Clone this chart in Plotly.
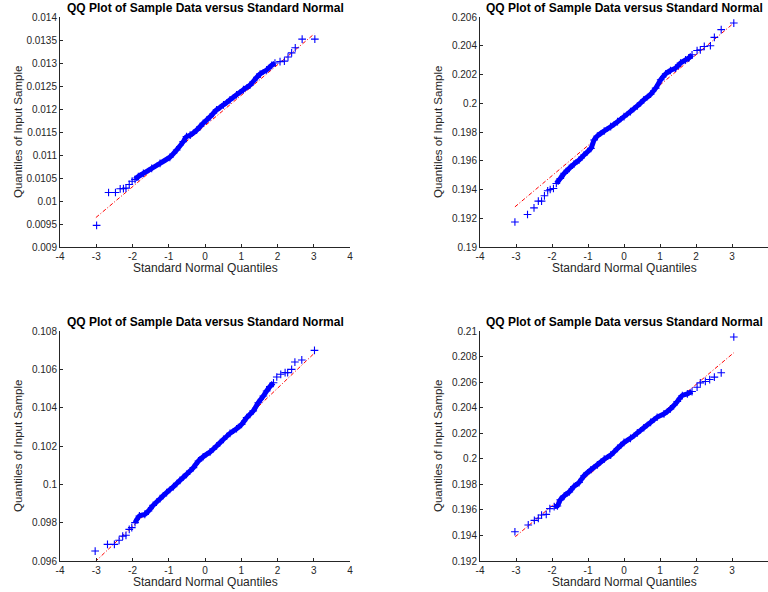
import plotly.graph_objects as go

# ---------------- data ----------------
p1_x = [-2.99, -2.66, -2.47, -2.34, -2.25, -2.18, -2.09, -2.01, -1.93, -1.84, -1.70, -1.47, -1.24,
        -0.97, -0.78, -0.60, -0.51, -0.41, -0.23, -0.05, 0.14, 0.32, 0.51, 0.69, 0.87, 1.06, 1.24,
        1.43, 1.52, 1.70, 1.84, 1.93, 2.07, 2.19, 2.29, 2.39, 2.49, 2.68, 3.03]
p1_y = [0.00947, 0.010185, 0.010185, 0.010265, 0.01027, 0.01028, 0.01036, 0.01043, 0.01047, 0.01053,
        0.01060, 0.01071, 0.01082, 0.01095, 0.01111, 0.01129, 0.01140, 0.01143, 0.01154, 0.01169,
        0.01183, 0.01198, 0.01209, 0.01220, 0.01231, 0.01242, 0.01252, 0.01269, 0.01276, 0.01285,
        0.01295, 0.01300, 0.01303, 0.01304, 0.01313, 0.01322, 0.01333, 0.01352, 0.01352]
p1_line_x = [-3.01, 3.01]
p1_line_y = [0.00964, 0.01363]
p1_yticks = [0.009, 0.0095, 0.01, 0.0105, 0.011, 0.0115, 0.012, 0.0125, 0.013, 0.0135, 0.014]
p1_ylabels = ["0.009", "0.0095", "0.01", "0.0105", "0.011", "0.0115", "0.012", "0.0125", "0.013",
              "0.0135", "0.014"]

p2_x = [-3.03, -2.68, -2.50, -2.38, -2.29, -2.21, -2.12, -2.05, -1.96, -1.88, -1.77, -1.66, -1.52,
        -1.39, -1.25, -1.11, -0.92, -0.83, -0.74, -0.55, -0.37, -0.18, 0.0, 0.18, 0.37, 0.55, 0.74,
        0.88, 1.02, 1.16, 1.29, 1.43, 1.57, 1.71, 1.80, 1.89, 2.03, 2.12, 2.23, 2.40, 2.51, 2.70, 3.05]
p2_y = [0.19174, 0.19226, 0.19272, 0.19319, 0.19319, 0.19356, 0.19391, 0.19400, 0.19407, 0.19442,
        0.19477, 0.19512, 0.19547, 0.19577, 0.19605, 0.19640, 0.19686, 0.19744, 0.19772, 0.19807,
        0.19837, 0.19872, 0.19907, 0.19942, 0.19981, 0.20023, 0.20063, 0.20105, 0.20163, 0.20205,
        0.20228, 0.20244, 0.20279, 0.20302, 0.20314, 0.20337, 0.20367, 0.20372, 0.20395, 0.20400,
        0.20458, 0.20512, 0.20558]
p2_line_x = [-3.03, 3.05]
p2_line_y = [0.19279, 0.20558]
p2_yticks = [0.19, 0.192, 0.194, 0.196, 0.198, 0.2, 0.202, 0.204, 0.206]
p2_ylabels = ["0.19", "0.192", "0.194", "0.196", "0.198", "0.2", "0.202", "0.204", "0.206"]

p3_x = [-3.03, -2.69, -2.50, -2.37, -2.27, -2.18, -2.09, -2.02, -1.93, -1.81, -1.66, -1.56, -1.43,
        -1.24, -1.06, -0.87, -0.69, -0.51, -0.32, -0.18, -0.05, 0.14, 0.32, 0.51, 0.69, 0.87, 1.01,
        1.15, 1.33, 1.47, 1.61, 1.70, 1.79, 1.89, 1.98, 2.09, 2.21, 2.28, 2.39, 2.48, 2.67, 3.02]
p3_y = [0.09652, 0.09687, 0.09687, 0.09708, 0.09730, 0.09734, 0.09765, 0.09774, 0.09800, 0.09835,
        0.09843, 0.09861, 0.09890, 0.09925, 0.09957, 0.09988, 0.10021, 0.10052, 0.10087, 0.10122,
        0.10144, 0.10169, 0.10200, 0.10235, 0.10266, 0.10290, 0.10313, 0.10348, 0.10383, 0.10426,
        0.10461, 0.10487, 0.10510, 0.10530, 0.10560, 0.10574, 0.10583, 0.10583, 0.10600, 0.10638,
        0.10649, 0.10699]
p3_line_x = [-3.03, 3.01]
p3_line_y = [0.09596, 0.10683]
p3_yticks = [0.096, 0.098, 0.1, 0.102, 0.104, 0.106, 0.108]
p3_ylabels = ["0.096", "0.098", "0.1", "0.102", "0.104", "0.106", "0.108"]

p4_x = [-3.03, -2.66, -2.49, -2.38, -2.29, -2.16, -2.06, -1.94, -1.85, -1.77, -1.66, -1.52, -1.39,
        -1.25, -1.11, -0.92, -0.74, -0.55, -0.37, -0.18, 0.0, 0.18, 0.37, 0.55, 0.74, 0.92, 1.11,
        1.29, 1.48, 1.62, 1.76, 1.89, 2.03, 2.12, 2.26, 2.38, 2.51, 2.70, 3.05]
p4_y = [0.19429, 0.19482, 0.19518, 0.19534, 0.19560, 0.19565, 0.19610, 0.19626, 0.19631, 0.19678,
        0.19710, 0.19741, 0.19783, 0.19814, 0.19867, 0.19914, 0.19953, 0.19997, 0.20029, 0.20081,
        0.20128, 0.20160, 0.20202, 0.20243, 0.20285, 0.20325, 0.20351, 0.20390, 0.20448, 0.20495,
        0.20508, 0.20526, 0.20560, 0.20594, 0.20605, 0.20620, 0.20639, 0.20673, 0.20953]
p4_line_x = [-3.02, 3.05]
p4_line_y = [0.19390, 0.20830]
p4_yticks = [0.192, 0.194, 0.196, 0.198, 0.2, 0.202, 0.204, 0.206, 0.208, 0.21]
p4_ylabels = ["0.192", "0.194", "0.196", "0.198", "0.2", "0.202", "0.204", "0.206", "0.208", "0.21"]

x_ticks = [-4, -3, -2, -1, 0, 1, 2, 3, 4]
x_labels = ["-4", "-3", "-2", "-1", "0", "1", "2", "3", "4"]

title_text = "QQ Plot of Sample Data versus Standard Normal"
xlab = "Standard Normal Quantiles"
ylab = "Quantiles of Input Sample"

panels = [
    (p1_x, p1_y, p1_line_x, p1_line_y, p1_yticks, p1_ylabels),
    (p2_x, p2_y, p2_line_x, p2_line_y, p2_yticks, p2_ylabels),
    (p3_x, p3_y, p3_line_x, p3_line_y, p3_yticks, p3_ylabels),
    (p4_x, p4_y, p4_line_x, p4_line_y, p4_yticks, p4_ylabels),
]

# ---------------- layout geometry ----------------
W, H = 768, 592
cols = [(60, 350), (480, 768)]
rows = [(17, 247), (331, 561)]
AX = "#262626"
FONT = "Liberation Sans, Arial, Helvetica, sans-serif"

fig = go.Figure()
layout = dict(
    width=W, height=H, margin=dict(l=0, r=0, t=0, b=0, autoexpand=False),
    paper_bgcolor="white", plot_bgcolor="white", showlegend=False,
    font=dict(family=FONT, size=10, color=AX),
)
annotations = []

for i, (px, py, lx, ly, yt, yl) in enumerate(panels):
    r, c = divmod(i, 2)
    x0, x1 = cols[c]
    y0, y1 = rows[r]
    xa = "xaxis" if i == 0 else f"xaxis{i+1}"
    ya = "yaxis" if i == 0 else f"yaxis{i+1}"
    xr = "x" if i == 0 else f"x{i+1}"
    yr = "y" if i == 0 else f"y{i+1}"

    # reference line (behind the sample)
    fig.add_trace(go.Scatter(x=lx, y=ly, mode="lines", xaxis=xr, yaxis=yr,
                             line=dict(color="#ff0000", width=1, dash="4px,2px,1px,2px")))
    # dense central body of the sample (markers overlap into a band)
    bx = [a for a in px if -1.95 <= a <= 1.95]
    by = [b for a, b in zip(px, py) if -1.95 <= a <= 1.95]
    fig.add_trace(go.Scatter(x=bx, y=by, mode="lines", xaxis=xr, yaxis=yr,
                             line=dict(color="#0000ff", width=5, shape="spline", smoothing=0.6),
                             hoverinfo="skip"))
    fig.add_trace(go.Scatter(x=px, y=py, mode="markers", xaxis=xr, yaxis=yr,
                             marker=dict(symbol="cross-thin", size=5.5,
                                         line=dict(color="#0000ff", width=1.1))))

    layout[xa] = dict(domain=[x0 / W, x1 / W], range=[-4, 4], anchor=yr,
                      tickvals=x_ticks, ticktext=x_labels, ticks="inside", ticklen=3,
                      tickcolor=AX, showline=True, linecolor=AX, linewidth=1,
                      showgrid=False, zeroline=False, tickfont=dict(size=10, color=AX))
    layout[ya] = dict(domain=[(H - y1) / H, (H - y0) / H], range=[yt[0], yt[-1]], anchor=xr,
                      tickvals=yt, ticktext=yl, ticks="inside", ticklen=3,
                      tickcolor=AX, showline=True, linecolor=AX, linewidth=1,
                      showgrid=False, zeroline=False, tickfont=dict(size=10, color=AX))

    cx = (x0 + x1) / 2 / W
    annotations.append(dict(text="<b>" + title_text + "</b>", x=cx, y=(H - y0 + 1) / H,
                            xref="paper", yref="paper", xanchor="center", yanchor="bottom",
                            showarrow=False, borderpad=0,
                            font=dict(size=12, color="black", family=FONT)))
    annotations.append(dict(text=xlab, x=cx, y=(H - y1 - 13) / H,
                            xref="paper", yref="paper", xanchor="center", yanchor="top",
                            showarrow=False, borderpad=0,
                            font=dict(size=12, color=AX, family=FONT)))
    annotations.append(dict(text=ylab, x=(x0 - 42) / W, y=(H - (y0 + y1) / 2) / H,
                            xref="paper", yref="paper", xanchor="center", yanchor="middle",
                            textangle=-90, showarrow=False, borderpad=0,
                            font=dict(size=11.5, color=AX, family=FONT)))

layout["annotations"] = annotations
fig.update_layout(**layout)
fig.write_html("out.html", config={"displayModeBar": False},
               post_script="document.body.style.margin='0px';document.body.style.overflow='hidden';")
